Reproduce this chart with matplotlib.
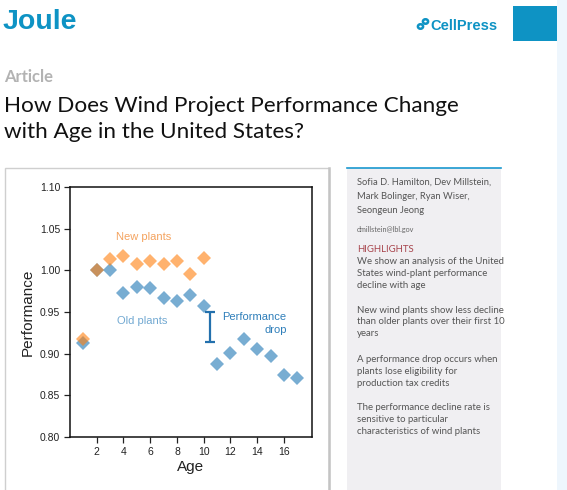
import matplotlib
matplotlib.use("Agg")
import matplotlib.pyplot as plt
from matplotlib.patches import Rectangle, Circle
from matplotlib.lines import Line2D

# ---------------- data ----------------
ages_old = [1, 2, 3, 4, 5, 6, 7, 8, 9, 10, 11, 12, 13, 14, 15, 16, 17]
perf_old = [0.913, 1.000, 1.000, 0.973, 0.980, 0.979, 0.967, 0.963, 0.970, 0.957,
            0.888, 0.901, 0.917, 0.905, 0.897, 0.874, 0.871]
ages_new = [1, 2, 3, 4, 5, 6, 7, 8, 9, 10]
perf_new = [0.917, 1.000, 1.014, 1.017, 1.008, 1.011, 1.008, 1.011, 0.995, 1.015]
drop_x = 10.5
drop_low = 0.914
drop_high = 0.950
x_ticks = [2, 4, 6, 8, 10, 12, 14, 16]
y_ticks = [0.80, 0.85, 0.90, 0.95, 1.00, 1.05, 1.10]

title_lines = ["How Does Wind Project Performance Change", "with Age in the United States?"]
authors = ["Sofia D. Hamilton, Dev Millstein,", "Mark Bolinger, Ryan Wiser,", "Seongeun Jeong"]
email = "dmillstein@lbl.gov"
highlights = [
    ["We show an analysis of the United", "States wind-plant performance", "decline with age"],
    ["New wind plants show less decline", "than older plants over their first 10", "years"],
    ["A performance drop occurs when", "plants lose eligibility for", "production tax credits"],
    ["The performance decline rate is", "sensitive to particular", "characteristics of wind plants"],
]

W, H = 567, 490
fig = plt.figure(figsize=(W / 100, H / 100), dpi=100)
fig.patch.set_facecolor("white")


def X(x):
    return x / W


def Y(y):
    return 1 - y / H


def rect(x0, y0, x1, y1, **kw):
    fig.add_artist(Rectangle((X(x0), Y(y1)), X(x1) - X(x0), Y(y0) - Y(y1),
                             transform=fig.transFigure, zorder=-5, **kw))


JOULE = "#0e93c4"
SERIF_UI = ["Lato", "DejaVu Sans"]

# --------------- header ----------------
fig.text(X(3), Y(29), "Joule", fontsize=20.5, fontweight="bold", color=JOULE,
         family=["Liberation Sans"], ha="left", va="baseline")
fig.text(X(430), Y(30), "CellPress", fontsize=10.5, fontweight="bold", color=JOULE,
         family=["Liberation Sans"], ha="left", va="baseline")
# chain-link icon
for cx, cy in [(420.5, 26.5), (425.5, 21.5)]:
    fig.add_artist(Circle((X(cx), Y(cy)), 2.6 / W, transform=fig.transFigure,
                          fill=False, edgecolor=JOULE, lw=1.8))
rect(513, 6, 557, 41, facecolor=JOULE, edgecolor="none")
rect(557, 0, 567, 490, facecolor="#eef6fd", edgecolor="none")

fig.text(X(4), Y(82), "Article", fontsize=12, fontweight="bold", color="#b3b3b3",
         family=SERIF_UI, ha="left", va="baseline")
fig.text(X(4), Y(112), title_lines[0], fontsize=16.2, color="#111111",
         family=SERIF_UI, ha="left", va="baseline")
fig.text(X(4), Y(138), title_lines[1], fontsize=16.2, color="#111111",
         family=SERIF_UI, ha="left", va="baseline")

# --------------- panels ----------------
rect(5, 168, 329, 495, facecolor="white", edgecolor="#cfcfcf", lw=1.0)
fig.add_artist(Line2D([X(329), X(329)], [Y(168), Y(490)], transform=fig.transFigure,
                      color="#c4c4c4", lw=1.8, zorder=-4))
rect(347, 168, 501, 495, facecolor="#f0eff2", edgecolor="none")
fig.add_artist(Line2D([X(347), X(501)], [Y(168), Y(168)], transform=fig.transFigure,
                      color="#1a98cf", lw=1.2, zorder=-4))

txt_col = "#555555"
ys = [182, 196, 210]
for yy, line in zip(ys, authors):
    fig.text(X(357), Y(yy), line, fontsize=6.75, color=txt_col, family=SERIF_UI,
             ha="left", va="center")
fig.text(X(357), Y(229), email, fontsize=5.2, color="#666666", family=SERIF_UI,
         ha="left", va="center")
fig.text(X(357), Y(249), "HIGHLIGHTS", fontsize=6.9, color="#a8444c", family=SERIF_UI,
         ha="left", va="center")
block_starts = [261, 310, 359, 407]
for y0, block in zip(block_starts, highlights):
    for i, line in enumerate(block):
        fig.text(X(357), Y(y0 + 12 * i), line, fontsize=6.9, color=txt_col,
                 family=SERIF_UI, ha="left", va="center")

# --------------- chart -----------------
ax = fig.add_axes([X(70), Y(437), X(312) - X(70), Y(187) - Y(437)])
ax.set_zorder(5)
ax.set_facecolor("white")
ax.plot(ages_old, perf_old, linestyle="none", marker="D", markersize=7.2,
        markeredgewidth=0, color="#1f77b4", alpha=0.6)
ax.plot(ages_new, perf_new, linestyle="none", marker="D", markersize=7.2,
        markeredgewidth=0, color="#ff7f0e", alpha=0.6)
ax.errorbar([drop_x], [(drop_low + drop_high) / 2], yerr=[[(drop_high - drop_low) / 2]] * 2,
            fmt="none", ecolor="#2370ad", elinewidth=1.6, capsize=3.6, capthick=1.6)

ax.text(5.5, 1.040, "New plants", color="#f4a35f", fontsize=8, ha="center",
        va="center", family=["Liberation Sans"])
ax.text(5.4, 0.939, "Old plants", color="#72a9d2", fontsize=8, ha="center",
        va="center", family=["Liberation Sans"])
ax.text(16.2, 0.944, "Performance", color="#2f7fba", fontsize=8, ha="right",
        va="center", family=["Liberation Sans"])
ax.text(16.2, 0.929, "drop", color="#2f7fba", fontsize=8, ha="right",
        va="center", family=["Liberation Sans"])

ax.set_xlim(0, 18.1)
ax.set_ylim(0.80, 1.10)
ax.set_xticks(x_ticks)
ax.set_yticks(y_ticks)
ax.set_yticklabels([f"{v:.2f}" for v in y_ticks])
for lab in ax.get_xticklabels() + ax.get_yticklabels():
    lab.set_family(["Liberation Sans"])
    lab.set_color("#222222")
ax.tick_params(labelsize=7.5, length=4, width=0.9, color="#222222", pad=3)
for sp in ax.spines.values():
    sp.set_color("#111111")
    sp.set_linewidth(1.1)
ax.set_xlabel("Age", fontsize=11, family=["Liberation Sans"], color="#222222", labelpad=2)
ax.set_ylabel("Performance", fontsize=11, family=["Liberation Sans"], color="#222222",
              labelpad=4)

fig.savefig("out.png", dpi=100, facecolor="white")
